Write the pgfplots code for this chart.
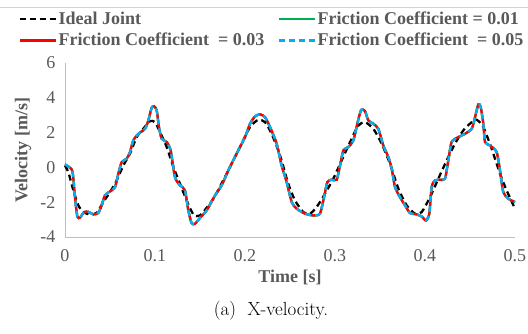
\documentclass[border=0pt]{standalone}
\usepackage{fontspec}
\setmainfont{Liberation Serif}
\usepackage{pgfplots}
\pgfplotsset{compat=1.18}
\usepackage{pgfplotstable}
\definecolor{txtgray}{HTML}{595959}
\definecolor{axgray}{HTML}{BFBFBF}
\definecolor{exred}{HTML}{FF0000}
\definecolor{exblue}{HTML}{00B0F0}
\definecolor{exgreen}{HTML}{00B050}
\pgfplotstableread{
t v
0 0.17
0.0056 -0.02
0.0085 -0.27
0.0111 -1.70
0.0137 -2.82
0.0167 -2.89
0.0211 -2.57
0.0259 -2.55
0.0315 -2.70
0.0370 -2.62
0.0407 -2.18
0.0444 -1.61
0.0500 -1.38
0.0556 -1.13
0.0593 -0.36
0.0630 0.30
0.0685 0.50
0.0722 0.88
0.0759 1.55
0.0815 1.93
0.0889 2.22
0.0926 2.70
0.0963 3.43
0.0989 3.52
0.1019 3.28
0.1044 2.32
0.1074 1.65
0.1130 1.46
0.1174 0.98
0.1222 -0.56
0.1278 -1.03
0.1333 -1.32
0.1370 -2.47
0.1407 -3.20
0.1444 -3.24
0.1500 -2.90
0.1574 -2.47
0.1667 -1.61
0.1741 -1.03
0.1815 -0.17
0.1907 0.79
0.2000 1.74
0.2056 2.51
0.2111 2.93
0.2167 3.05
0.2222 2.89
0.2278 2.32
0.2352 1.36
0.2407 0.11
0.2463 -0.84
0.2519 -1.99
0.2574 -2.37
0.2667 -2.66
0.2759 -2.76
0.2833 -2.66
0.2878 -1.71
0.2915 -0.84
0.2963 -0.71
0.3019 -0.71
0.3056 0.11
0.3093 0.98
0.3148 1.17
0.3204 1.55
0.3248 2.51
0.3290 3.30
0.3333 3.24
0.3370 2.70
0.3426 2.51
0.3481 2.22
0.3537 1.26
0.3593 0.59
0.3630 -0.08
0.3667 -1.13
0.3722 -1.71
0.3778 -2.18
0.3833 -2.62
0.3907 -2.70
0.3963 -2.82
0.4011 -3.05
0.4048 -2.66
0.4074 -1.13
0.4111 -0.75
0.4167 -0.71
0.4222 -0.65
0.4259 0.40
0.4296 1.46
0.4370 1.74
0.4444 1.93
0.4519 2.22
0.4556 2.89
0.4593 3.62
0.4619 3.47
0.4648 2.51
0.4667 1.46
0.4722 1.26
0.4796 0.88
0.4833 -0.17
0.4870 -1.42
0.4926 -1.80
0.5000 -1.99
}\friction
\pgfplotstableread{
t v
0 0.10
0.0037 -0.27
0.0093 -1.32
0.0148 -2.18
0.0204 -2.57
0.0278 -2.70
0.0352 -2.62
0.0426 -1.99
0.0500 -1.42
0.0574 -0.75
0.0648 0.11
0.0722 0.79
0.0796 1.74
0.0870 2.22
0.0944 2.66
0.1000 2.60
0.1056 2.03
0.1130 1.17
0.1204 0.02
0.1278 -0.94
0.1352 -1.90
0.1426 -2.70
0.1500 -2.76
0.1648 -1.80
0.1796 -0.36
0.1944 1.17
0.2056 2.32
0.2148 2.74
0.2222 2.60
0.2296 1.93
0.2389 0.69
0.2481 -0.94
0.2556 -1.90
0.2648 -2.57
0.2722 -2.66
0.2796 -2.28
0.2889 -1.51
0.2981 -0.65
0.3074 0.40
0.3167 1.45
0.3259 2.40
0.3333 2.60
0.3426 2.22
0.3519 1.36
0.3611 0.21
0.3704 -1.22
0.3796 -2.18
0.3889 -2.66
0.3963 -2.57
0.4056 -1.71
0.4148 -0.65
0.4241 0.40
0.4333 1.36
0.4426 2.13
0.4519 2.60
0.4574 2.74
0.4648 2.32
0.4741 1.07
0.4833 -0.36
0.4907 -1.32
0.5000 -2.37
}\ideal
\begin{document}
\begin{tikzpicture}
\useasboundingbox (-65pt,-96pt) rectangle (463pt,237pt);
\draw[axgray!70, line width=0.8pt] (-65pt,230pt) -- (463pt,230pt);
\begin{axis}[
  at={(0pt,0pt)}, anchor=south west,
  scale only axis, width=450pt, height=174pt,
  xmin=0, xmax=0.5, ymin=-4, ymax=6,
  xtick={0,0.1,0.2,0.3,0.4,0.5},
  ytick={-4,-2,0,2,4,6},
  axis x line=bottom, axis y line=left,
  axis line style={axgray, line width=0.9pt, -},
  major tick length=0pt,
  tick style={draw=none},
  /pgf/number format/assume math mode=true,
  xticklabel style={font=\fontsize{18}{20}\selectfont, text=txtgray, yshift=-9pt},
  yticklabel style={font=\fontsize{18}{20}\selectfont, text=txtgray, xshift=-6pt},
  xticklabel={\pgfmathprintnumber[fixed,precision=1]{\tick}},
  yticklabel={\pgfmathprintnumber{\tick}},
  xlabel={\textbf{Time [s]}},
  ylabel={\textbf{Velocity [m/s]}},
  xlabel style={font=\fontsize{18}{20}\selectfont, text=txtgray, at={(axis description cs:0.5,0)}, anchor=center, yshift=-40pt},
  ylabel style={font=\fontsize{18}{20}\selectfont, text=txtgray, at={(axis description cs:0,0.5)}, anchor=center, rotate=0, xshift=0pt, yshift=42pt},
  clip=false,
  legend columns=2,
  legend cell align=left,
  legend style={at={(axis description cs:-0.104,1.305)}, anchor=north west, draw=none, fill=none,
    font=\fontsize{18}{20}\selectfont\bfseries, text=txtgray,
    /tikz/every even column/.append style={column sep=11pt},
    inner sep=0pt, row sep=3pt},
  legend image code/.code={\draw[#1] (0pt,0pt) -- (36pt,0pt);},
]
\addplot[black, line width=2.3pt, dash pattern=on 6pt off 4pt, smooth, tension=0.4] table[x=t,y=v]{\ideal};
\addlegendentry{Ideal Joint}
\addplot[exgreen, line width=2.3pt, smooth, tension=0.4] table[x=t,y=v]{\friction};
\addlegendentry{Friction Coefficient = 0.01}
\addplot[exred, line width=2.3pt, smooth, tension=0.4] table[x=t,y=v]{\friction};
\addlegendentry{Friction Coefficient\ \ = 0.03}
\addplot[exblue, line width=2.3pt, dash pattern=on 6pt off 4pt, smooth, tension=0.4] table[x=t,y=v]{\friction};
\addlegendentry{Friction Coefficient\ \ = 0.05}
\end{axis}
\node[font=\fontsize{19}{21}\fontfamily{lmr}\selectfont, anchor=center] at (206pt,-74pt) {(a)\ \ X-velocity.};
\end{tikzpicture}
\end{document}
